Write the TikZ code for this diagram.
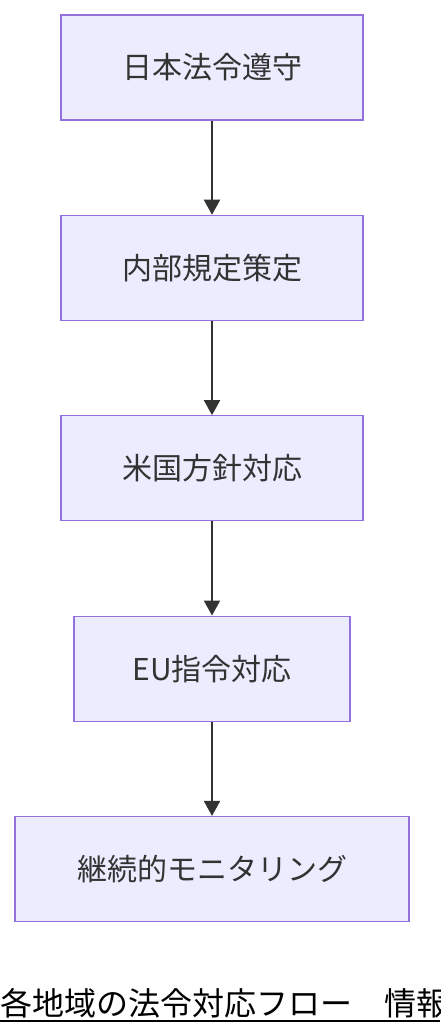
\documentclass[tikz,border=0pt]{standalone}
\usepackage{fontspec}
\setmainfont{Noto Sans CJK JP}
\usepackage{tikz}
\usetikzlibrary{arrows.meta}
\usetikzlibrary{positioning}
\definecolor{boxfill}{HTML}{ECECFF}
\definecolor{boxline}{HTML}{9370DB}
\definecolor{linkgray}{HTML}{333333}
\tikzset{node distance=100.2pt, auto}
\tikzset{stage/.style={draw=boxline, fill=boxfill, line width=0.65pt, text=linkgray,
    font=\fontsize{15}{18}\selectfont, minimum width=151pt, minimum height=52.5pt, inner sep=0pt}}
\tikzset{flow/.style={draw=linkgray, line width=1pt, -{Triangle[width=8pt,length=7.5pt]}}}

\begin{document}
\begin{tikzpicture}[x=0.5pt, y=-0.5pt]
			\useasboundingbox (0,0) rectangle (440,1036);
			\clip (0,0) rectangle (440,1036);
			\node[stage] (JP) at (212,67.5)	{日本法令遵守};
			\node[stage] (RULE) 	[below of=JP]		{内部規定策定};
			\node[stage] (US) 	[below of=RULE]		{米国方針対応};
			\node[stage, minimum width=138pt] (EU) 	[below of=US]		{EU指令対応};
			\node[stage, minimum width=197pt] (MON) 	[below of=EU]		{継続的モニタリング};
			%\node (TITLE) below the chart, cut at the right edge
			\node (TITLE) [anchor=west, inner sep=0pt, font=\fontsize{16}{19}\selectfont] at (0,1003) {各地域の法令対応フロー　情報};
			\draw[flow]					(JP)		to (RULE);
			\draw[flow]					(RULE)		to (US);
			\draw[flow]					(US)		to (EU);
			\draw[flow]					(EU)		to (MON);
			\draw[line width=0.6pt]		(0,1021) -- (440,1021);
\end{tikzpicture}
\end{document}
